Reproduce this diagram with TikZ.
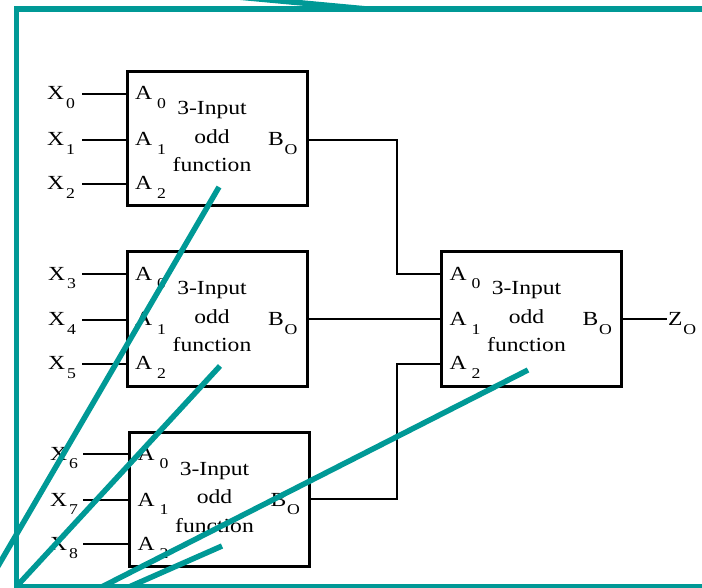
\documentclass[tikz,border=0pt]{standalone}
\usepackage{fontspec}
\setmainfont{Liberation Serif}[FakeStretch=1.18]
\usetikzlibrary{calc}
\definecolor{teal1}{RGB}{0,153,150}
\newcommand\subs[1]{\raisebox{-8.5pt}{\fontsize{15}{15}\selectfont #1}}
\begin{document}
\begin{tikzpicture}[x=1pt,y=-1pt,
  fbox/.style={draw=black, line width=3pt, minimum width=180pt, minimum height=134pt, inner sep=0pt, outer sep=0pt},
  lbl/.style={inner sep=0pt, outer sep=0pt, anchor=base west, font=\fontsize{20}{24}\selectfont},
  mid/.style={inner sep=0pt, outer sep=0pt, anchor=base, font=\fontsize{20}{24}\selectfont},
  wire/.style={line width=1.3pt, draw=black},
  tl/.style={line width=5.5pt, draw=teal1}]
\useasboundingbox (0,0) rectangle (702,588);
\clip (0,0) rectangle (702,588);

% boxes
\node[fbox] (b1) at (217,139) {};
\node[fbox] (b2) at (217,319) {};
\node[fbox] (b3) at (219.5,499) {};
\node[fbox] (b4) at (531.5,319) {};

% box texts
\foreach \b in {b1,b2,b3,b4}{
  \node[mid] (\b t1) at ($(\b.north)+(-5,43)$) {3-Input};
  \node[mid] (\b t2) at ($(\b.north)+(-5,71.5)$) {odd};
  \node[mid] (\b t3) at ($(\b.north)+(-5,100)$) {function};
  \node[lbl] (\b p0) at ($(\b.west)+(8,-39)$) {A\hspace{5pt}\subs{0}};
  \node[lbl] (\b p1) at ($(\b.west)+(8,7)$) {A\hspace{5pt}\subs{1}};
  \node[lbl] (\b p2) at ($(\b.west)+(8,51)$) {A\hspace{5pt}\subs{2}};
  \node[lbl] (\b q) at ($(\b.east)+(-39,7)$) {B\hspace{1pt}\subs{O}};
}

% input labels
\node[lbl] (x0) at ($(b1.west)+(-80,-39)$) {X\hspace{2pt}\subs{0}};
\node[lbl] (x1) at ($(b1.west)+(-80,7)$) {X\hspace{2pt}\subs{1}};
\node[lbl] (x2) at ($(b1.west)+(-80,51)$) {X\hspace{2pt}\subs{2}};
\node[lbl] (x3) at ($(b2.west)+(-79,-39)$) {X\hspace{2pt}\subs{3}};
\node[lbl] (x4) at ($(b2.west)+(-79,7)$) {X\hspace{2pt}\subs{4}};
\node[lbl] (x5) at ($(b2.west)+(-79,51)$) {X\hspace{2pt}\subs{5}};
\node[lbl] (x6) at ($(b3.west)+(-79.5,-39)$) {X\hspace{2pt}\subs{6}};
\node[lbl] (x7) at ($(b3.west)+(-79.5,7)$) {X\hspace{2pt}\subs{7}};
\node[lbl] (x8) at ($(b3.west)+(-79.5,51)$) {X\hspace{2pt}\subs{8}};
\node[lbl] (z) at (668,326) {Z\hspace{1pt}\subs{O}};

% input wire starts
\coordinate (i0) at ($(b1.west)+(-45,-45)$);
\coordinate (i1) at ($(b1.west)+(-45,1)$);
\coordinate (i2) at ($(b1.west)+(-45,45)$);
\coordinate (i3) at ($(b2.west)+(-45,-45)$);
\coordinate (i4) at ($(b2.west)+(-45,1)$);
\coordinate (i5) at ($(b2.west)+(-45,45)$);
\coordinate (i6) at ($(b3.west)+(-46.5,-45)$);
\coordinate (i7) at ($(b3.west)+(-46.5,1)$);
\coordinate (i8) at ($(b3.west)+(-46.5,45)$);
\foreach \i/\b in {0/b1,1/b1,2/b1,3/b2,4/b2,5/b2,6/b3,7/b3,8/b3}{
  \draw[wire] (i\i) -- (i\i -| \b.west);
}

% output wiring
\coordinate (b4a0) at ($(b4.west)+(0,-45)$);
\coordinate (b4a2) at ($(b4.west)+(0,45)$);
\coordinate (jx) at (397,0);
\coordinate (zo) at (667,319);
\draw[wire] ($(b1.east)+(0,1)$) -| (jx |- b4a0) -- (b4a0);
\draw[wire] (b2.east) -- (b4.west);
\draw[wire] (b3.east) -| (jx |- b4a2) -- (b4a2);
\draw[wire] (b4.east) -- (zo);

% teal overlay
\draw[tl] (720,9) -- (16.5,9) -- (16.5,586.5) -- (720,586.5);
\draw[tl] (200,-6.5) -- (367,9);
\draw[tl] (219,187) -- (-20,597);
\draw[tl] (220,366) -- (16.5,586.5);
\draw[tl] (528,370) -- (80,598);
\draw[tl] (222,546) -- (104,598);
\end{tikzpicture}
\end{document}
